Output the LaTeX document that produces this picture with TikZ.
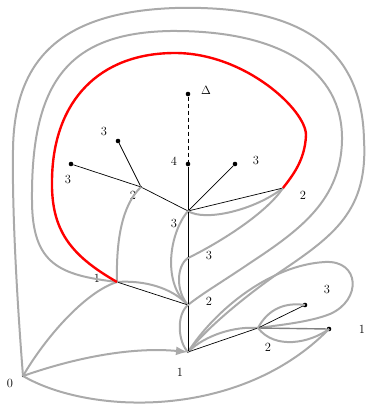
\documentclass[tikz,border=0pt]{standalone}
\usetikzlibrary{arrows.meta}
\definecolor{lgray}{RGB}{170,170,170}
\begin{document}
\begin{tikzpicture}[x=1pt,y=-1pt,
  bigdot/.style={circle,fill=black,inner sep=0pt,minimum size=4.6pt},
  smalldot/.style={circle,fill=black,inner sep=0pt,minimum size=2.4pt},
  lab/.style={inner sep=0pt,font=\fontsize{12.5}{14}\selectfont},
  gcurve/.style={lgray,line width=2pt},
  redcurve/.style={red,line width=2.4pt},
  tree/.style={black,line width=0.7pt},
  darkedge/.style={black!50,line width=1.4pt}]
\useasboundingbox (0,0) rectangle (366,407);
% vertices
\node[bigdot] (D) at (188,94) {};
\node[bigdot] (n4) at (188,164) {};
\node[bigdot] (tl3) at (118,141) {};
\node[bigdot] (l3) at (71,164) {};
\node[smalldot] (l2) at (141,187) {};
\node[bigdot] (r3) at (235,164) {};
\node[smalldot] (r2) at (283,188) {};
\node[smalldot] (c3) at (188,211) {};
\node[smalldot] (lo3) at (188,258) {};
\node[smalldot] (l1) at (117,282) {};
\node[smalldot] (c2) at (188,305) {};
\node[smalldot] (b1) at (188,352) {};
\node[smalldot] (z0) at (23,376) {};
\node[smalldot] (rr2) at (258,328) {};
\node[bigdot] (p3) at (305,305) {};
\node[bigdot] (p1) at (329,329) {};
% labels
\node[lab] (tD) at (206,90) {$\Delta$};
\node[lab] (t4) at (174,161) {4};
\node[lab] (ttl3) at (104,131) {3};
\node[lab] (tl3l) at (68,179) {3};
\node[lab] (tl2) at (133,195) {2};
\node[lab] (tr3) at (256,160) {3};
\node[lab] (tr2) at (303,195) {2};
\node[lab] (tc3) at (174,223) {3};
\node[lab] (tlo3) at (209,255) {3};
\node[lab] (tl1) at (97,278) {1};
\node[lab] (tc2) at (209,301) {2};
\node[lab] (tb1) at (180,372) {1};
\node[lab] (tz0) at (10,383) {0};
\node[lab] (trr2) at (268,347) {2};
\node[lab] (tloop) at (327,289) {3};
\node[lab] (tp1) at (362,329) {1};
% gray curves
\draw[gcurve] (z0.center) .. controls (17,300) and (12,210) .. (13,150)
  .. controls (14,60) and (60,12) .. (175,8)
  .. controls (290,5) and (362,40) .. (364,140)
  .. controls (368,210) and (335,235) .. (280,272)
  .. controls (240,300) and (205,330) .. (b1.center);
\draw[gcurve] (l1.center) .. controls (60,275) and (32,265) .. (32,200)
  .. controls (31,80) and (70,33) .. (170,31)
  .. controls (280,30) and (343,70) .. (342,140)
  .. controls (341,200) and (300,230) .. (250,263)
  .. controls (225,280) and (200,295) .. (c2.center);
\draw[gcurve] (b1.center) .. controls (215,310) and (270,265) .. (325,262)
  .. controls (360,260) and (362,300) .. (330,314)
  .. controls (310,322) and (280,325) .. (rr2.center);
\draw[gcurve] (z0.center) .. controls (90,415) and (240,420) .. (p1.center);
\draw[gcurve] (z0.center) .. controls (45,338) and (85,292) .. (l1.center);
\draw[gcurve,-{Latex[length=12pt,width=9pt]}] (z0.center) .. controls (80,356) and (135,347) .. (b1.center);
\draw[gcurve] (l1.center) .. controls (116,240) and (122,205) .. (l2.center);
\draw[gcurve] (l1.center) .. controls (145,280) and (172,288) .. (c2.center);
\draw[gcurve] (c3.center) .. controls (168,235) and (163,285) .. (c2.center);
\draw[gcurve] (lo3.center) .. controls (176,266) and (176,292) .. (c2.center);
\draw[gcurve] (c2.center) .. controls (176,315) and (178,342) .. (b1.center);
\draw[gcurve] (c3.center) .. controls (205,222) and (255,210) .. (r2.center);
\draw[gcurve] (lo3.center) .. controls (215,245) and (265,215) .. (r2.center);
\draw[gcurve] (b1.center) .. controls (205,335) and (235,326) .. (rr2.center);
\draw[gcurve] (rr2.center) .. controls (268,309) and (285,302) .. (p3.center);
\draw[gcurve] (rr2.center) .. controls (275,350) and (310,343) .. (p1.center);
% tree
\draw[tree,dash pattern=on 4pt off 3pt] (D) -- (n4);
\draw[tree] (n4) -- (c3);
\draw[tree] (c3) -- (r3);
\draw[tree] (c3) -- (r2);
\draw[tree] (c3) -- (l2);
\draw[tree] (l2) -- (tl3);
\draw[tree] (l2) -- (l3);
\draw[tree] (c3) -- (lo3);
\draw[tree] (lo3) -- (c2);
\draw[tree] (c2) -- (l1);
\draw[tree] (c2) -- (b1);
\draw[tree] (b1) -- (rr2);
\draw[tree] (rr2) -- (p3);
\draw[darkedge] (rr2) -- (p1);
% red curve
\draw[redcurve] (l1.center) .. controls (70,255) and (51,230) .. (52,180)
  .. controls (53,100) and (100,53) .. (175,53)
  .. controls (245,53) and (306,110) .. (306,135)
  .. controls (305,160) and (293,175) .. (r2.center);
\end{tikzpicture}
\end{document}
